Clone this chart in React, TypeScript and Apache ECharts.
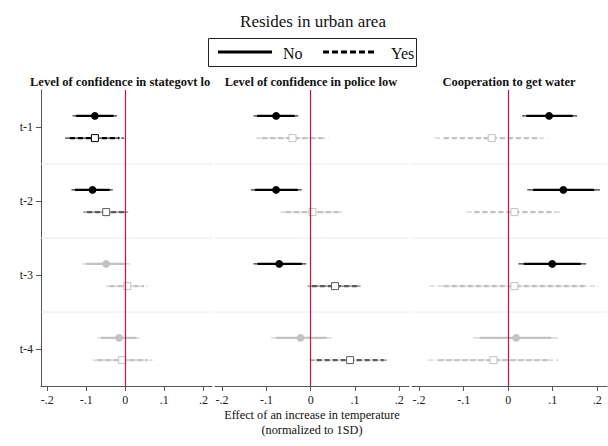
import React, { useEffect, useRef } from "react";
import * as echarts from "echarts";

const periods = ["t-1", "t-2", "t-3", "t-4"];
const xTickValues = [-0.2, -0.1, 0, 0.1, 0.2];
const xTickLabels = ["-.2", "-.1", "0", ".1", ".2"];
const panelTitles = [
  "Level of confidence in stategovt low",
  "Level of confidence in police low",
  "Cooperation to get water",
];
const groupNames = ["No", "Yes"];
const mainTitle = "Resides in urban area";
const axisTitle = ["Effect of an increase in temperature", "(normalized to 1SD)"];

// rows: [estimate, lo95, hi95, lo90, hi90]
const stateNo = [
  [-0.078, -0.135, -0.021, -0.126, -0.03],
  [-0.084, -0.138, -0.032, -0.129, -0.04],
  [-0.049, -0.11, 0.011, -0.1, 0.001],
  [-0.016, -0.071, 0.037, -0.062, 0.028],
];
const stateYes = [
  [-0.078, -0.154, -0.003, -0.142, -0.015],
  [-0.049, -0.108, 0.009, -0.098, -0.001],
  [0.005, -0.049, 0.057, -0.04, 0.048],
  [-0.008, -0.083, 0.07, -0.071, 0.057],
];
const policeNo = [
  [-0.078, -0.129, -0.028, -0.121, -0.036],
  [-0.078, -0.135, -0.02, -0.126, -0.029],
  [-0.071, -0.129, -0.01, -0.12, -0.02],
  [-0.023, -0.089, 0.047, -0.078, 0.036],
];
const policeYes = [
  [-0.041, -0.123, 0.041, -0.11, 0.028],
  [0.004, -0.067, 0.074, -0.056, 0.063],
  [0.055, -0.007, 0.119, 0.003, 0.109],
  [0.089, -0.002, 0.179, 0.013, 0.165],
];
const waterNo = [
  [0.092, 0.031, 0.155, 0.041, 0.145],
  [0.124, 0.043, 0.206, 0.056, 0.193],
  [0.099, 0.023, 0.175, 0.035, 0.163],
  [0.018, -0.078, 0.112, -0.063, 0.097],
];
const waterYes = [
  [-0.037, -0.164, 0.089, -0.144, 0.069],
  [0.014, -0.093, 0.122, -0.076, 0.105],
  [0.014, -0.176, 0.203, -0.145, 0.172],
  [-0.033, -0.179, 0.114, -0.156, 0.091],
];
// significance level: 0 = strong (black), 1 = weak (dark gray), 2 = none (light gray)
const stateNoSig = [0, 0, 2, 2];
const stateYesSig = [0, 1, 2, 2];
const policeNoSig = [0, 0, 0, 2];
const policeYesSig = [2, 2, 1, 1];
const waterNoSig = [0, 0, 0, 2];
const waterYesSig = [2, 2, 2, 2];

const sigColors = ["#000000", "#5c5c5c", "#c2c2c2"];
const FONT = "Liberation Serif, Times New Roman, serif";

const panels = [
  { no: stateNo, yes: stateYes, noSig: stateNoSig, yesSig: stateYesSig },
  { no: policeNo, yes: policeYes, noSig: policeNoSig, yesSig: policeYesSig },
  { no: waterNo, yes: waterYes, noSig: waterNoSig, yesSig: waterYesSig },
];

const gridBoxes = [
  { left: 41, top: 90, width: 171, height: 296 },
  { left: 215, top: 90, width: 194, height: 296 },
  { left: 412, top: 90, width: 195, height: 296 },
];

function tickLabel(v: number) {
  for (let i = 0; i < xTickValues.length; i++) {
    if (Math.abs(v - xTickValues[i]) < 1e-9) return xTickLabels[i];
  }
  return "";
}

function renderItem(params: any, api: any) {
  const cat = api.value(0);
  const est = api.value(1);
  const lo95 = api.value(2);
  const hi95 = api.value(3);
  const lo90 = api.value(4);
  const hi90 = api.value(5);
  const g = api.value(6);
  const sig = api.value(7);
  const band = api.size([0, 1])[1];
  const c = api.coord([est, cat]);
  const y = c[1] + (g === 0 ? -0.15 : 0.15) * band;
  const x95a = api.coord([lo95, cat])[0];
  const x95b = api.coord([hi95, cat])[0];
  const x90a = api.coord([lo90, cat])[0];
  const x90b = api.coord([hi90, cat])[0];
  const color = sigColors[sig];
  const dash = g === 1 ? [5, 3] : null;
  const cs = params.coordSys;
  const children: any[] = [];
  if (g === 0 && cat > 0) {
    const gy = c[1] - band / 2;
    children.push({
      type: "line",
      shape: { x1: cs.x, y1: gy, x2: cs.x + cs.width, y2: gy },
      style: { stroke: "#e3ecee", lineWidth: 1 },
      z2: 0,
    });
  }
  children.push({
    type: "line",
    shape: { x1: x95a, y1: y, x2: x95b, y2: y },
    style: { stroke: color, lineWidth: 1, lineDash: dash },
    z2: 1,
  });
  children.push({
    type: "line",
    shape: { x1: x90a, y1: y, x2: x90b, y2: y },
    style: { stroke: color, lineWidth: 2.4, lineDash: dash },
    z2: 2,
  });
  if (g === 0) {
    children.push({
      type: "circle",
      shape: { cx: c[0], cy: y, r: 3.9 },
      style: { fill: color },
      z2: 3,
    });
  } else {
    children.push({
      type: "rect",
      shape: { x: c[0] - 3.5, y: y - 3.5, width: 7, height: 7 },
      style: { fill: "#ffffff", stroke: color, lineWidth: 1 },
      z2: 3,
    });
  }
  return { type: "group", children };
}

export default function App() {
  const ref = useRef<HTMLDivElement>(null);
  useEffect(() => {
    document.body.style.margin = "0";
    if (!ref.current) return;
    const chart = echarts.init(ref.current, null, { renderer: "svg" });

    const grid = gridBoxes.map((b) => ({ ...b, containLabel: false }));
    const xAxis = gridBoxes.map((_, i) => ({
      type: "value",
      gridIndex: i,
      min: -0.216,
      max: 0.222,
      axisLine: { show: true, onZero: false, lineStyle: { color: "#555", width: 1 } },
      axisTick: { show: true, customValues: xTickValues, length: 5, lineStyle: { color: "#555" } },
      axisLabel: {
        customValues: xTickValues,
        formatter: (v: number) => tickLabel(v),
        fontFamily: FONT,
        fontSize: 12,
        color: "#222",
        margin: 8,
      },
      splitLine: { show: false },
    }));
    const yAxis = gridBoxes.map((_, i) => ({
      type: "category",
      gridIndex: i,
      position: "left",
      data: periods,
      inverse: true,
      show: i === 0,
      axisLine: { show: true, onZero: false, lineStyle: { color: "#555", width: 1 } },
      axisTick: { show: true, alignWithLabel: true, length: 5, lineStyle: { color: "#555" } },
      axisLabel: { show: true, fontFamily: FONT, fontSize: 12, color: "#222", margin: 8 },
      splitLine: { show: false },
    }));

    const series = panels.map((p, i) => {
      const data: any[] = [];
      p.no.forEach((r, k) => data.push([k, ...r, 0, p.noSig[k]]));
      p.yes.forEach((r, k) => data.push([k, ...r, 1, p.yesSig[k]]));
      return {
        type: "custom",
        name: panelTitles[i],
        xAxisIndex: i,
        yAxisIndex: i,
        renderItem,
        encode: { x: [1, 2, 3, 4, 5], y: 0 },
        data,
        clip: false,
        markLine: {
          silent: true,
          symbol: "none",
          label: { show: false },
          lineStyle: { color: "#d0103a", width: 1.2, type: "solid" },
          data: [{ xAxis: 0 }],
        },
      };
    });

    const textStyle = (text: string, size: number, extra: any = {}) => ({
      text,
      fontFamily: FONT,
      fontSize: size,
      fill: "#111",
      verticalAlign: "middle",
      ...extra,
    });

    const graphic: any[] = [
      {
        type: "text",
        x: 313,
        y: 21,
        style: textStyle(mainTitle, 17, { align: "center" }),
      },
      {
        type: "rect",
        shape: { x: 208.5, y: 38.5, width: 208, height: 28 },
        style: { fill: "#fff", stroke: "#222", lineWidth: 1 },
      },
      {
        type: "line",
        shape: { x1: 218, y1: 52, x2: 272, y2: 52 },
        style: { stroke: "#000", lineWidth: 3 },
      },
      {
        type: "text",
        x: 283,
        y: 53,
        style: textStyle(groupNames[0], 16),
      },
      {
        type: "line",
        shape: { x1: 323, y1: 52, x2: 377, y2: 52 },
        style: { stroke: "#000", lineWidth: 3, lineDash: [6, 3] },
      },
      {
        type: "text",
        x: 391,
        y: 53,
        style: textStyle(groupNames[1], 16),
      },
      {
        type: "text",
        x: 30,
        y: 82,
        style: textStyle(panelTitles[0], 12.5, {
          fontWeight: "bold",
          width: 185,
          overflow: "truncate",
          ellipsis: "",
        }),
      },
      {
        type: "text",
        x: 311,
        y: 82,
        style: textStyle(panelTitles[1], 12.5, { fontWeight: "bold", align: "center" }),
      },
      {
        type: "text",
        x: 509,
        y: 82,
        style: textStyle(panelTitles[2], 12.5, { fontWeight: "bold", align: "center" }),
      },
      {
        type: "text",
        x: 312,
        y: 415,
        style: textStyle(axisTitle[0], 12.3, { align: "center" }),
      },
      {
        type: "text",
        x: 312,
        y: 429.5,
        style: textStyle(axisTitle[1], 12.3, { align: "center" }),
      },
    ];

    chart.setOption({
      animation: false,
      backgroundColor: "#ffffff",
      grid,
      xAxis,
      yAxis,
      series,
      graphic,
    });
    return () => chart.dispose();
  }, []);
  return <div ref={ref} style={{ width: 608, height: 446 }} />;
}
